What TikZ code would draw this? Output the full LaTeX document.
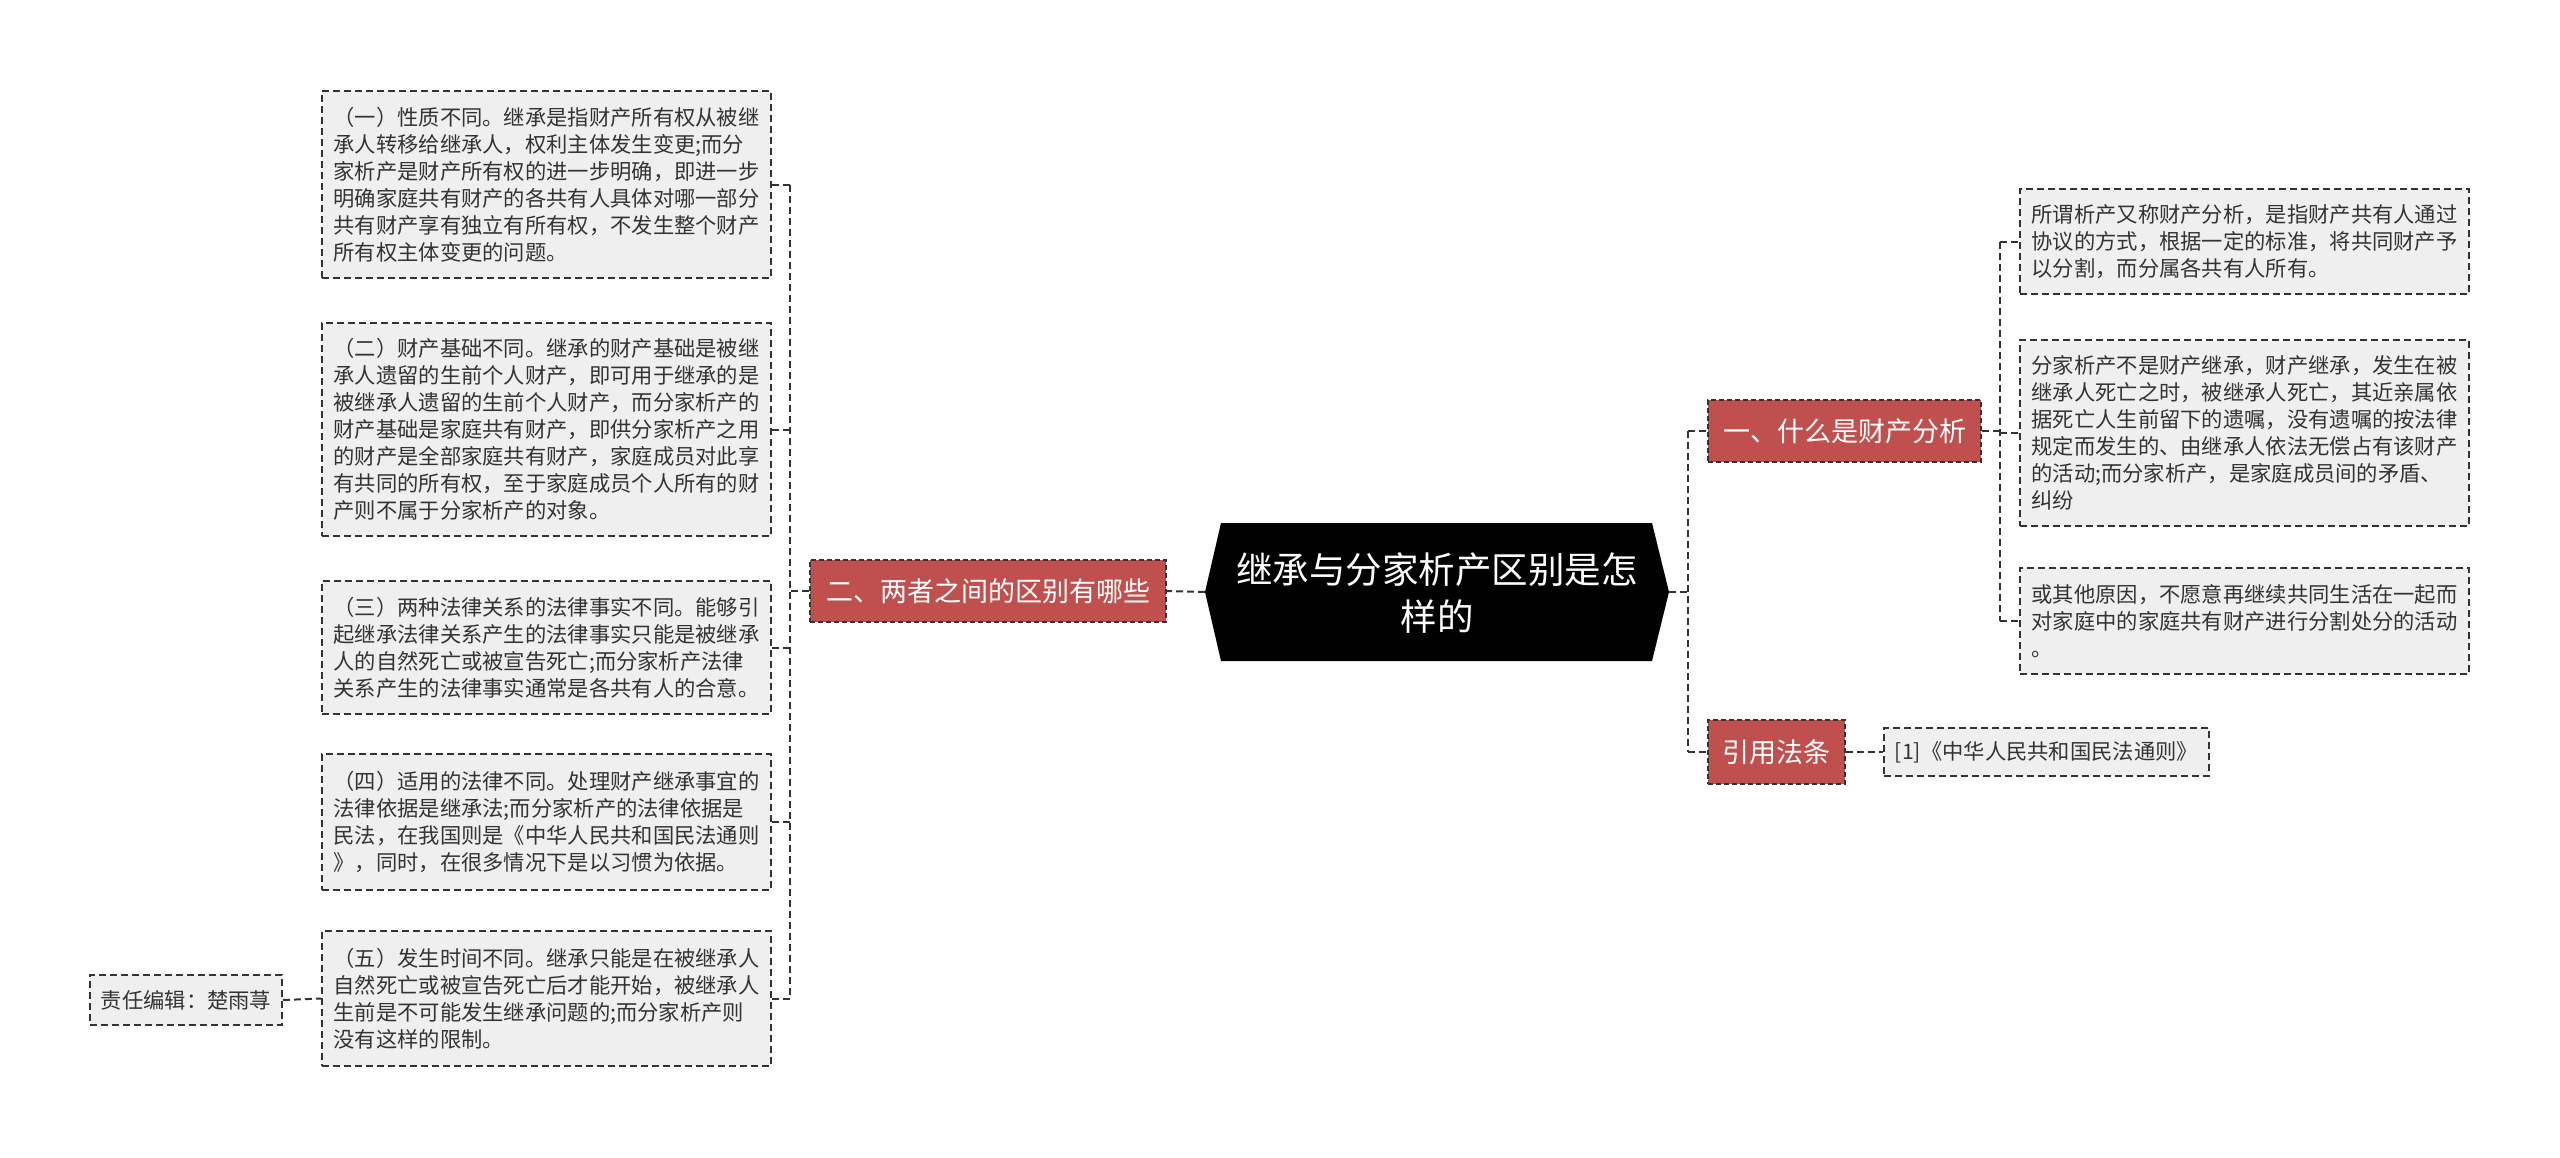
\documentclass[tikz,border=0pt]{standalone}
\usepackage{fontspec}
\setmainfont{Noto Sans CJK SC}
\definecolor{redfill}{HTML}{C0504D}
\definecolor{grayfill}{HTML}{EFEFEF}
\definecolor{edgecol}{HTML}{333333}
\tikzset{
  txtbox/.style={draw=edgecol, fill=grayfill, line width=2pt, dash pattern=on 7pt off 4pt,
    align=left, font=\fontsize{21.3}{27}\selectfont, text=edgecol, inner sep=0pt, minimum width=449pt},
  redbox/.style={draw=edgecol, fill=redfill, line width=2pt, dash pattern=on 5pt off 3pt,
    text=white, font=\fontsize{27}{32}\selectfont, inner sep=0pt, minimum height=62pt},
  link/.style={draw=edgecol, line width=2pt, dash pattern=on 7pt off 4pt},
}
\begin{document}
\begin{tikzpicture}[x=1pt,y=-1pt]
\useasboundingbox (0,0) rectangle (2560,1157);
% centre
\coordinate (cL) at (1205,592);
\coordinate (cR) at (1669,592);
\fill[black] (cL) -- (1221,523) -- (1652,523) -- (cR) -- (1652,661) -- (1221,661) -- cycle;
\node[text=white, font=\fontsize{36.5}{47}\selectfont, align=center] (C) at (1437,593) {继承与分家析产区别是怎\\样的};
% main branches
\node[redbox, minimum width=356pt] (T2) at (988,591) {二、两者之间的区别有哪些};
\node[redbox, minimum width=273pt] (T1) at (1844.5,431) {一、什么是财产分析};
\node[redbox, minimum width=137pt, minimum height=64pt] (T3) at (1776.5,752) {引用法条};
% left boxes
\node[txtbox, minimum height=187pt] (L1) at (546.5,184.5) {（一）性质不同。继承是指财产所有权从被继\\承人转移给继承人，权利主体发生变更;而分\\家析产是财产所有权的进一步明确，即进一步\\明确家庭共有财产的各共有人具体对哪一部分\\共有财产享有独立有所有权，不发生整个财产\\所有权主体变更的问题。};
\node[txtbox, minimum height=213pt] (L2) at (546.5,429.5) {（二）财产基础不同。继承的财产基础是被继\\承人遗留的生前个人财产，即可用于继承的是\\被继承人遗留的生前个人财产，而分家析产的\\财产基础是家庭共有财产，即供分家析产之用\\的财产是全部家庭共有财产，家庭成员对此享\\有共同的所有权，至于家庭成员个人所有的财\\产则不属于分家析产的对象。};
\node[txtbox, minimum height=133pt] (L3) at (546.5,647.5) {（三）两种法律关系的法律事实不同。能够引\\起继承法律关系产生的法律事实只能是被继承\\人的自然死亡或被宣告死亡;而分家析产法律\\关系产生的法律事实通常是各共有人的合意。};
\node[txtbox, minimum height=136pt] (L4) at (546.5,822) {（四）适用的法律不同。处理财产继承事宜的\\法律依据是继承法;而分家析产的法律依据是\\民法，在我国则是《中华人民共和国民法通则\\》，同时，在很多情况下是以习惯为依据。};
\node[txtbox, minimum height=135pt] (L5) at (546.5,998.5) {（五）发生时间不同。继承只能是在被继承人\\自然死亡或被宣告死亡后才能开始，被继承人\\生前是不可能发生继承问题的;而分家析产则\\没有这样的限制。};
\node[txtbox, minimum width=192pt, minimum height=50pt] (Ed) at (186,1000) {责任编辑：楚雨荨};
% right boxes
\node[txtbox, minimum height=105pt] (R1) at (2244.5,241.5) {所谓析产又称财产分析，是指财产共有人通过\\协议的方式，根据一定的标准，将共同财产予\\以分割，而分属各共有人所有。};
\node[txtbox, minimum height=186pt] (R2) at (2244.5,433) {分家析产不是财产继承，财产继承，发生在被\\继承人死亡之时，被继承人死亡，其近亲属依\\据死亡人生前留下的遗嘱，没有遗嘱的按法律\\规定而发生的、由继承人依法无偿占有该财产\\的活动;而分家析产，是家庭成员间的矛盾、\\纠纷};
\node[txtbox, minimum height=106pt] (R3) at (2244.5,621) {或其他原因，不愿意再继续共同生活在一起而\\对家庭中的家庭共有财产进行分割处分的活动\\。};
\node[txtbox, minimum width=325pt, minimum height=48pt] (Ref) at (2046.5,752) {[1]《中华人民共和国民法通则》};
% connectors
\coordinate (jL) at (790,591);
\coordinate (jR) at (1688,592);
\coordinate (jR2) at (2000,431);
\draw[link] (cL) -- (T2.east);
\draw[link] (T2.west) -- (jL);
\draw[link] (jL |- L1.east) -- (jL |- L5.east);
\foreach \n in {L1,L2,L3,L4,L5} \draw[link] (jL |- \n.east) -- (\n.east);
\draw[link] (Ed.east) -- (L5.west);
\draw[link] (cR) -- (jR);
\draw[link] (jR |- T1.west) -- (jR |- T3.west);
\foreach \n in {T1,T3} \draw[link] (jR |- \n.west) -- (\n.west);
\draw[link] (T1.east) -- (jR2);
\draw[link] (jR2 |- R1.west) -- (jR2 |- R3.west);
\foreach \n in {R1,R2,R3} \draw[link] (jR2 |- \n.west) -- (\n.west);
\draw[link] (T3.east) -- (Ref.west);
\end{tikzpicture}
\end{document}
